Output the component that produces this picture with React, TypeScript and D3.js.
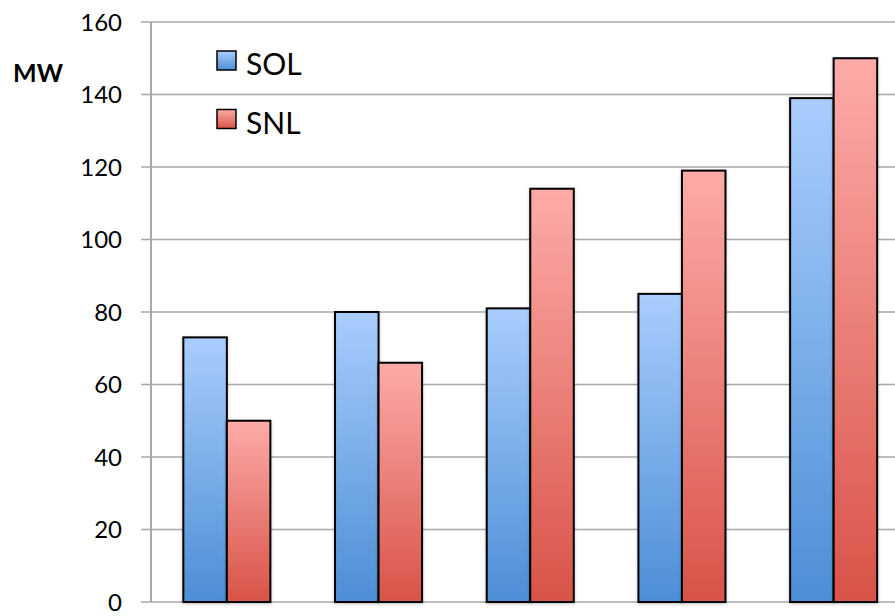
import * as d3 from "d3";

// ----- Data -----------------------------------------------------------------
const categories = ["1", "2", "3", "4", "5"];
const seriesNames = ["SOL", "SNL"];
const solValues = [73, 80, 81, 85, 139];
const snlValues = [50, 66, 114, 119, 150];
const yTicks = [0, 20, 40, 60, 80, 100, 120, 140, 160];

const W = 895;
const H = 616;
const FONT = "Lato, 'Open Sans', sans-serif";

const colors: Record<string, { top: string; bottom: string }> = {
  SOL: { top: "#a9cdfd", bottom: "#4d8ed6" },
  SNL: { top: "#fdaba8", bottom: "#d85348" },
};

const App = () => {
  // plot area (right side runs past the window edge, as in the original)
  const left = 151;
  const plotRight = 909.5;
  const y0 = 602;
  const yTop = 22;

  const x = d3.scaleBand<string>().domain(categories).range([left, plotRight]).padding(0);
  const xInner = d3
    .scaleBand<string>()
    .domain(seriesNames)
    .range([0, x.bandwidth()])
    .paddingInner(0)
    .paddingOuter(0.743);
  const y = d3.scaleLinear().domain([0, 160]).range([y0, yTop]);

  const rows = categories.map((c, i) => ({ cat: c, SOL: solValues[i], SNL: snlValues[i] }));

  return (
    <svg
      width={W}
      height={H}
      style={{ position: "absolute", left: 0, top: 0, background: "#fff", overflow: "hidden" }}
    >
      <defs>
        {seriesNames.map((s) => (
          <linearGradient key={s} id={`grad-${s}`} x1="0" y1="0" x2="0" y2="1">
            <stop offset="0%" stopColor={colors[s].top} />
            <stop offset="100%" stopColor={colors[s].bottom} />
          </linearGradient>
        ))}
        <filter id="shadow" x="-20%" y="-5%" width="140%" height="110%">
          <feDropShadow dx="0" dy="1" stdDeviation="1.5" floodColor="#000" floodOpacity="0.25" />
        </filter>
      </defs>

      {/* gridlines + tick marks */}
      {yTicks.map((t) => (
        <line key={t} x1={141} x2={W} y1={y(t)} y2={y(t)} stroke="#a8a8a8" strokeWidth={1.5} />
      ))}
      {/* y axis line */}
      <line x1={left} x2={left} y1={yTop} y2={y0} stroke="#a8a8a8" strokeWidth={2} />

      {/* tick labels */}
      {yTicks.map((t) => (
        <text
          key={t}
          x={122}
          y={y(t)}
          dy="0.36em"
          textAnchor="end"
          fontFamily={FONT}
          fontSize={24}
          fill="#000"
        >
          {t}
        </text>
      ))}

      {/* bars */}
      {rows.map((r) =>
        seriesNames.map((s) => {
          const v = (r as any)[s] as number;
          return (
            <rect
              key={r.cat + s}
              x={(x(r.cat) as number) + (xInner(s) as number)}
              y={y(v)}
              width={xInner.bandwidth()}
              height={y0 - y(v)}
              fill={`url(#grad-${s})`}
              stroke="#000"
              strokeWidth={2}
              filter="url(#shadow)"
            />
          );
        }),
      )}

      {/* axis title */}
      <text x={13} y={81.5} fontFamily={FONT} fontWeight="bold" fontSize={25} fill="#000">
        MW
      </text>

      {/* legend */}
      {seriesNames.map((s, i) => (
        <g key={s} transform={`translate(217,${51 + i * 58.5})`}>
          <rect width={19} height={19} fill={`url(#grad-${s})`} stroke="#000" strokeWidth={1.5} />
          <text x={29} y={24} fontFamily={FONT} fontSize={30} fill="#000">
            {s}
          </text>
        </g>
      ))}
    </svg>
  );
};

export default App;
